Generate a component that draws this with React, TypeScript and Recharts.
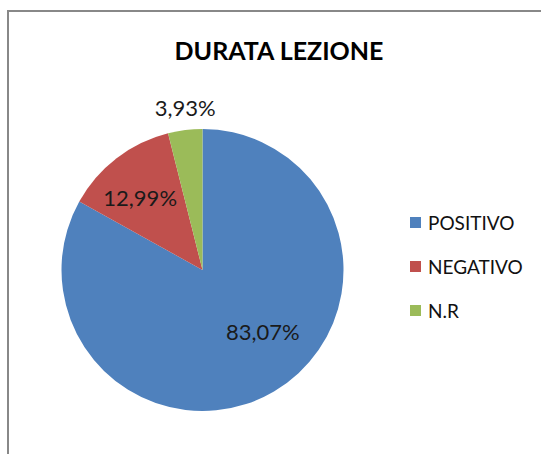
import React from 'react';
import { PieChart, Pie, Cell, Legend } from 'recharts';

const categories = ['POSITIVO', 'NEGATIVO', 'N.R'];
const shares = [83.07, 12.99, 3.93];
const colors = ['#4F81BD', '#C0504D', '#9BBB59'];
// where Excel put each percentage label: fraction of radius, nudge in degrees
const labelRadius = [0.61, 0.68, 1.16];
const labelShift = [14, 3, -1];

const data = categories.map((name, i) => ({ name, value: shares[i] }));

const RAD = Math.PI / 180;

const renderLabel = (props: any) => {
  const { cx, cy, midAngle, outerRadius, index } = props;
  const r = outerRadius * labelRadius[index];
  const a = (midAngle + labelShift[index]) * RAD;
  const x = cx + r * Math.cos(a);
  const y = cy - r * Math.sin(a);
  return (
    <text x={x} y={y} fill="#1a1a1a" fontSize={22} fontFamily="Lato" textAnchor="middle" dominantBaseline="central">
      {shares[index].toFixed(2).replace('.', ',')}%
    </text>
  );
};

const renderLegend = () => (
  <div style={{ fontFamily: 'Lato', fontSize: 19, color: '#111' }}>
    {categories.map((c, i) => (
      <div key={c} style={{ display: 'flex', alignItems: 'center', height: 44 }}>
        <span style={{ width: 11, height: 11, background: colors[i], marginRight: 7, display: 'inline-block' }} />
        <span>{c}</span>
      </div>
    ))}
  </div>
);

export default function App() {
  return (
    <div style={{ position: 'absolute', left: 0, top: 0, width: 541, height: 454, background: '#fff', overflow: 'hidden' }}>
      <div style={{ position: 'absolute', left: 7, top: 10, width: 560, height: 470, borderLeft: '2px solid #888', borderTop: '2px solid #888' }} />
      <div style={{ position: 'absolute', left: 0, top: 35, width: 558, textAlign: 'center', fontFamily: 'Lato', fontWeight: 700, fontSize: 25, color: '#000' }}>
        DURATA LEZIONE
      </div>
      <div style={{ position: 'absolute', left: 0, top: 0 }}>
        <PieChart width={541} height={454} margin={{ top: 0, right: 0, bottom: 0, left: 0 }}>
          <Pie
            data={data}
            dataKey="value"
            nameKey="name"
            cx={202.5}
            cy={270}
            outerRadius={141}
            startAngle={90}
            endAngle={-270}
            stroke="none"
            label={renderLabel}
            labelLine={false}
            isAnimationActive={false}
          >
            {data.map((d, i) => (
              <Cell key={d.name} fill={colors[i]} />
            ))}
          </Pie>
          <Legend content={renderLegend} layout="vertical" wrapperStyle={{ position: 'absolute', left: 410, top: 200, width: 130 }} />
        </PieChart>
      </div>
    </div>
  );
}
